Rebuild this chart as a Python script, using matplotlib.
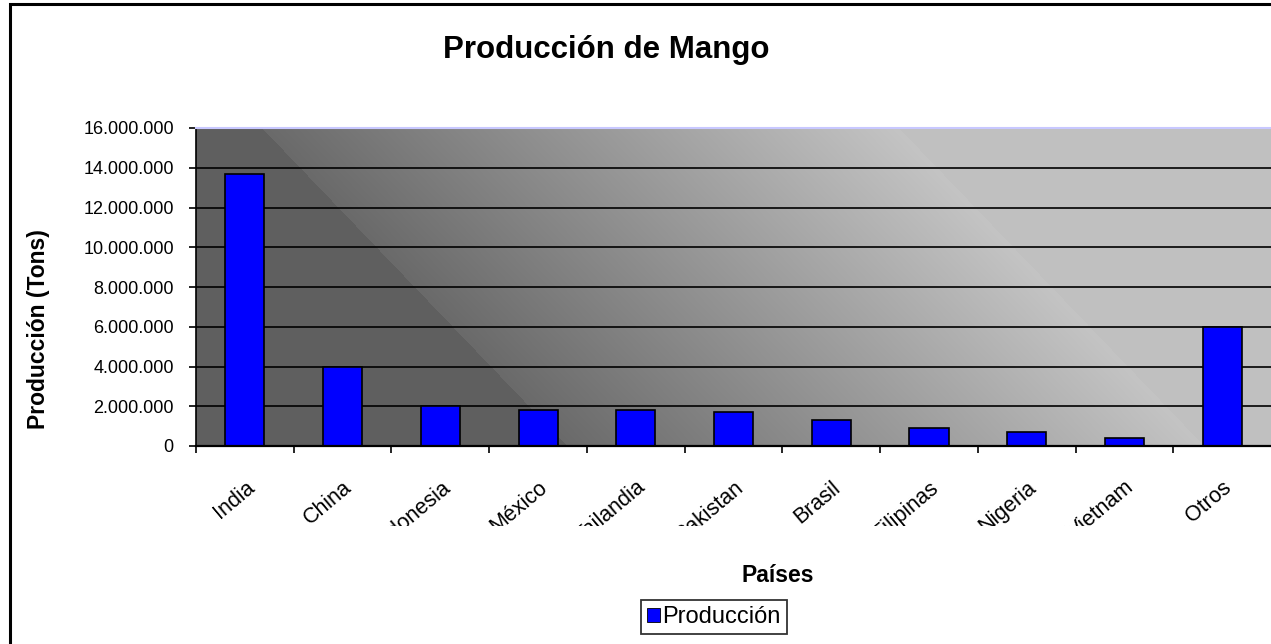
import numpy as np
import matplotlib.pyplot as plt
from matplotlib.ticker import FuncFormatter
from matplotlib.transforms import Bbox, ScaledTranslation
from matplotlib.patches import Rectangle, Patch

plt.rcParams['font.family'] = ['Liberation Sans', 'DejaVu Sans']

paises = ['India', 'China', 'Indonesia', 'México', 'Tailandia', 'Pakistan',
          'Brasil', 'Filipinas', 'Nigeria', 'Vietnam', 'Otros']
produccion = [13700000, 4000000, 2000000, 1800000, 1800000, 1700000,
              1300000, 900000, 700000, 400000, 6000000]
yticks = [0, 2000000, 4000000, 6000000, 8000000, 10000000, 12000000, 14000000, 16000000]

W, H = 1271, 644
fig = plt.figure(figsize=(W / 100, H / 100), dpi=100)
fig.patch.set_facecolor('white')

# plot area in pixels
x0, x1, y0, y1 = 196, 1271, 128, 446
ax = fig.add_axes([x0 / W, 1 - y1 / H, (x1 - x0) / W, (y1 - y0) / H])

# diagonal grey background (dark top-left -> light right)
px = np.arange(x0, x1)
py = np.arange(y0, y1)
PX, PY = np.meshgrid(px, py)
t = PX - 0.96 * PY
t1, t2 = 139, 776
f = np.clip((t - t1) / (t2 - t1), 0, 1)
g = np.where(f > 0, 0x6a + f * (0xc4 - 0x6a), 0x5f)
g = np.where(f >= 1, 0xc0, g) / 255.0
img = np.dstack([g, g, g])
ax.imshow(img, extent=[-0.5, len(paises) - 0.5, 0, 16000000], aspect='auto',
          origin='upper', zorder=0, interpolation='bilinear')

x = np.arange(len(paises))
for v in yticks[1:-1]:
    ax.axhline(v, color='black', lw=1.2, zorder=1)
ax.bar(x, produccion, width=0.4, color='#0000ff', edgecolor='black', lw=1.2, zorder=2,
       label='Producción')

ax.set_xlim(-0.5, len(paises) - 0.5)
ax.set_ylim(0, 16000000)
ax.set_yticks(yticks)
ax.yaxis.set_major_formatter(FuncFormatter(lambda v, p: f'{int(v):,}'.replace(',', '.')))
ax.tick_params(axis='y', labelsize=13, length=5, width=1.2, direction='out', pad=11)

ax.set_xticks(x)
ax.set_xticks(np.arange(len(paises)) - 0.5, minor=True)
ax.tick_params(axis='x', which='major', length=0, pad=28)
ax.tick_params(axis='x', which='minor', length=5, width=1.2, direction='out')
ax.set_xticklabels(paises, rotation=40, ha='right', va='center',
                   rotation_mode='anchor', fontsize=15.5)
clip = Bbox([[0, H - 526], [W, H]])
for lab in ax.get_xticklabels():
    lab.set_transform(lab.get_transform() + ScaledTranslation(7 / 100, 0, fig.dpi_scale_trans))
    lab.set_clip_box(clip)
    lab.set_clip_on(True)

ax.spines['top'].set_color('#c8c8ff')
ax.spines['top'].set_linewidth(1.5)
ax.spines['right'].set_visible(False)
ax.spines['left'].set_color('black')
ax.spines['left'].set_linewidth(1.2)
ax.spines['bottom'].set_linewidth(1.6)

fig.text(606 / W, 1 - 50 / H, 'Producción de Mango', ha='center', va='center',
         fontsize=22.5, fontweight='bold')
fig.text(39 / W, 1 - 329 / H, 'Producción (Tons)', ha='center', va='center',
         rotation=90, fontsize=16.5, fontweight='bold')
fig.text(778 / W, 1 - 576 / H, 'Países', ha='center', va='center',
         fontsize=16.5, fontweight='bold')

handle = Patch(facecolor='#0000ff', edgecolor='black', lw=0.6)
leg = fig.legend([handle], ['Producción'], loc='center',
                 bbox_to_anchor=(714 / W, 1 - 617 / H), fontsize=17,
                 frameon=True, fancybox=False, handlelength=0.55, handleheight=0.55,
                 handletextpad=0.1, borderpad=0.25, borderaxespad=0)
leg.get_frame().set_edgecolor('black')
leg.get_frame().set_linewidth(1.3)

# outer chart border
fig.patches.append(Rectangle((10 / W, -0.1), 1.2, 1.1 - 4 / H, transform=fig.transFigure,
                             fill=False, edgecolor='black', lw=2.2))

fig.savefig('out.png', dpi=100)
